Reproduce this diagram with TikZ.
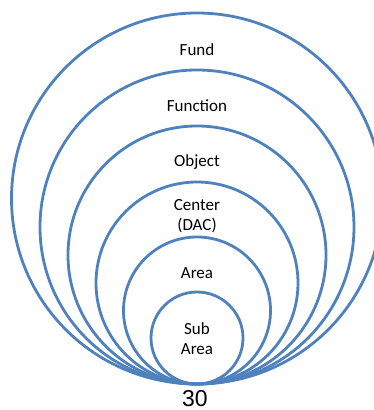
\documentclass[tikz,border=0pt]{standalone}
\usepackage{fontspec}
\setmainfont{Carlito}
\newfontfamily\numfont{Liberation Sans}
\definecolor{ringblue}{RGB}{79,129,189}
\tikzset{
  ring/.style={draw=ringblue,line width=2.8pt},
  lbl/.style={font=\fontsize{17}{19.5}\selectfont,align=center,inner sep=0pt}
}

\begin{document}
\begin{tikzpicture}[x=1pt,y=1pt]
    \useasboundingbox (0,0) rectangle (374,410);
    \coordinate (tip) at (197,26);

    \draw[ring] (197,211.5) circle[radius=185.5];
    \draw[ring] (197,183) circle[radius=157];
    \draw[ring] (197,155) circle[radius=129];
    \draw[ring] (197,127) circle[radius=101];
    \draw[ring] (197,99.5) circle[radius=73.5];
    \draw[ring] (197,72) circle[radius=46];

    \node[lbl,anchor=base] (fund) at (197,354.3) {Fund};
    \node[lbl,anchor=base] (function) at (197,298.3) {Function};
    \node[lbl,anchor=base] (object) at (197,243) {Object};
    \node[lbl] (center) at (197,194) {Center\\(DAC)};
    \node[lbl,anchor=base] (area) at (197,131) {Area};
    \node[lbl] (subarea) at (197,71.5) {Sub\\Area};

    \node[inner sep=0pt,anchor=base,font=\numfont\fontsize{23}{26}\selectfont] (page) at (195,3) {30};
\end{tikzpicture}
\end{document}
